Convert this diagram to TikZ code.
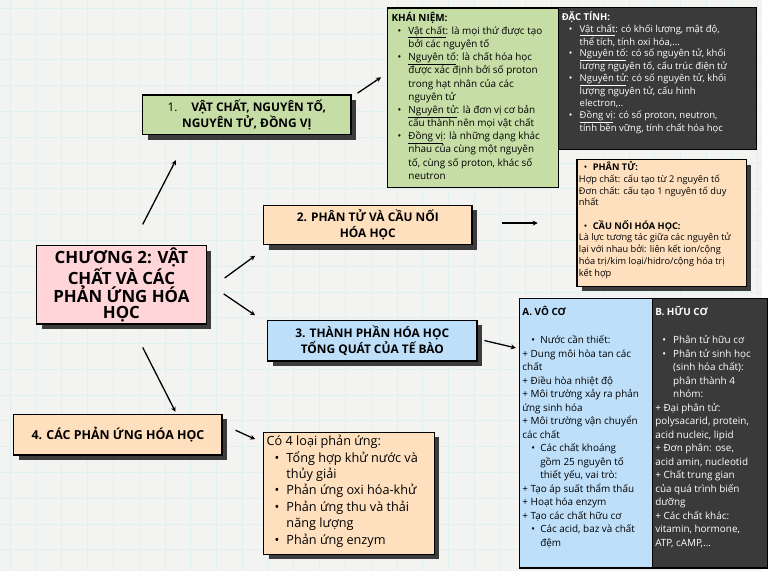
\documentclass[tikz,border=0pt]{standalone}
\usepackage{fontspec}
\setmainfont{Open Sans}
\usetikzlibrary{arrows.meta,calc,shadows}

\definecolor{paper}{HTML}{F3F4F2}
\definecolor{gridc}{HTML}{E0EFEF}
\definecolor{pinkc}{HTML}{FFD5D8}
\definecolor{greenc}{HTML}{C6DDA6}
\definecolor{peachc}{HTML}{FFE0BE}
\definecolor{bluec}{HTML}{BEDFFA}
\definecolor{darkc}{HTML}{3A3A3A}
\definecolor{shadowc}{HTML}{3C3C3C}

% bullet lines with hanging indent
\newlength\bulin
\newlength\txtin
\newcommand\itmset[2]{\setlength\bulin{#1}\setlength\txtin{#2}}
\newcommand\itm[1]{\par\noindent\hangindent=\txtin\hangafter=1\hspace*{\bulin}\makebox[\dimexpr\txtin-\bulin\relax][l]{\textbullet}#1\par}
\newcommand\notetext[3]{\begin{minipage}[t][#2][t]{#1}\raggedright #3\end{minipage}}

\begin{document}
\begin{tikzpicture}[x=1pt,y=-1pt,
  headbox/.style={draw=black, line width=1.3pt, anchor=north west, align=center, inner sep=2pt,
    font=\fontsize{12}{16.5}\selectfont\bfseries,
    drop shadow={shadow xshift=5pt,shadow yshift=-5pt,opacity=1,fill=shadowc}},
  notebox/.style={draw=black, line width=1.3pt, anchor=north west, inner sep=4pt},
  arr/.style={-{Stealth[length=5pt,width=5pt]}, line width=1.3pt},
  gridline/.style={gridc, line width=0.6pt}
]
  % paper background
  \fill[paper] (0,0) rectangle (768,576);
  \foreach \gx in {10,36,...,768} \draw[gridline] (\gx,0) -- (\gx,576);
  \foreach \gy in {8,34,...,576} \draw[gridline] (0,\gy) -- (768,\gy);

  % main topic
  \node[headbox, fill=pinkc, minimum width=171, minimum height=78,
    font=\fontsize{17}{16.2}\selectfont\bfseries] (main) at (36,247)
    {CHƯƠNG 2: VẬT\\CHẤT VÀ CÁC\\PHẢN ỨNG HÓA\\HỌC};

  % four branches
  \node[headbox, fill=greenc, minimum width=210, minimum height=40] (b1) at (143,95)
    {{\mdseries 1.}\hspace{14pt}VẬT CHẤT, NGUYÊN TỐ,\\NGUYÊN TỬ, ĐỒNG VỊ};
  \node[headbox, fill=peachc, minimum width=210, minimum height=40] (b2) at (265,206)
    {2. PHÂN TỬ VÀ CẦU NỐI\\HÓA HỌC};
  \node[headbox, fill=bluec, minimum width=211, minimum height=41] (b3) at (269,322)
    {3. THÀNH PHẦN HÓA HỌC\\TỔNG QUÁT CỦA TẾ BÀO};
  \node[headbox, fill=peachc, minimum width=210, minimum height=41,
    font=\fontsize{12.5}{16}\selectfont\bfseries] (b4) at (13,417)
    {4. CÁC PHẢN ỨNG HÓA HỌC};

  % notes of branch 1
  \node[notebox, fill=greenc, font=\fontsize{10}{13.3}\selectfont] (kn) at (390,7)
    {\notetext{164pt}{173pt}{%
      \textbf{KHÁI NIỆM:}\par
      \itmset{6pt}{17pt}%
      \itm{\underline{Vật chất}: là mọi thứ được tạo\newline bởi các nguyên tố}
      \itm{\underline{Nguyên tố}: là chất hóa học\newline được xác định bởi số proton\newline trong hạt nhân của các\newline nguyên tử}
      \itm{\underline{Nguyên tử}: là đơn vị cơ bản\newline cấu thành nên mọi vật chất}
      \itm{\underline{Đồng vị}: là những dạng khác\newline nhau của cùng một nguyên\newline tố, cùng số proton, khác số\newline neutron}}};
  \node[notebox, fill=darkc, line width=0.8pt, text=white, font=\fontsize{9.6}{11.8}\selectfont] (dt) at (562,7)
    {\notetext{192pt}{135pt}{%
      \textbf{ĐẶC TÍNH:}\par
      \itmset{7pt}{18pt}%
      \itm{\underline{Vật chất}: có khối lượng, mật độ,\newline thể tích, tính oxi hóa,...}
      \itm{\underline{Nguyên tố}: có số nguyên tử, khối\newline lượng nguyên tố, cấu trúc điện tử}
      \itm{\underline{Nguyên tử}: có số nguyên tử, khối\newline lượng nguyên tử, cấu hình\newline electron,..}
      \itm{\underline{Đồng vị}: có số proton, neutron,\newline tính bền vững, tính chất hóa học}}};

  % notes of branch 2
  \node[notebox, fill=peachc, inner sep=2pt, font=\fontsize{9.3}{11.8}\selectfont,
    drop shadow={shadow xshift=5pt,shadow yshift=-5pt,opacity=1,fill=shadowc}] (pt) at (581,160)
    {\notetext{167pt}{124pt}{%
      \itmset{5pt}{14pt}%
      \itm{\textbf{PHÂN TỬ:}}
      Hợp chất: cấu tạo từ 2 nguyên tố\newline
      Đơn chất: cấu tạo 1 nguyên tố duy\newline nhất\par
      \vspace{11.8pt}
      \itm{\textbf{CẦU NỐI HÓA HỌC:}}
      Là lực tương tác giữa các nguyên tử\newline
      lại với nhau bởi: liên kết ion/cộng\newline
      hóa trị/kim loại/hidro/cộng hóa trị\newline
      kết hợp}};

  % notes of branch 3
  \node[notebox, fill=bluec, inner sep=3pt, font=\fontsize{10}{13.6}\selectfont] (vc) at (523,300)
    {\notetext{128pt}{266pt}{%
      \vspace*{5pt}\textbf{A. VÔ CƠ}\par
      \vspace{15pt}
      \itmset{9pt}{18pt}%
      \itm{Nước cần thiết:}
      + Dung môi hòa tan các\newline chất\newline
      + Điều hòa nhiệt độ\newline
      + Môi trường xảy ra phản\newline ứng sinh hóa\newline
      + Môi trường vận chuyển\newline các chất\par
      \itm{Các chất khoáng\newline gồm 25 nguyên tố\newline thiết yếu, vai trò:}
      + Tạo áp suất thẩm thấu\newline
      + Hoạt hóa enzym\newline
      + Tạo các chất hữu cơ\par
      \itm{Các acid, baz và chất\newline đệm}}};
  \node[notebox, fill=darkc, text=white, inner sep=3pt, font=\fontsize{10}{13.6}\selectfont] (hc) at (657,300)
    {\notetext{110pt}{266pt}{%
      \vspace*{5pt}\textbf{B. HỮU CƠ}\par
      \vspace{15pt}
      \itmset{7pt}{18pt}%
      \itm{Phân tử hữu cơ}
      \itm{Phân tử sinh học\newline (sinh hóa chất):\newline phân thành 4\newline nhóm:}
      + Đại phân tử:\newline polysacarid, protein,\newline acid nucleic, lipid\newline
      + Đơn phân: ose,\newline acid amin, nucleotid\newline
      + Chất trung gian\newline của quá trình biến\newline dưỡng\newline
      + Các chất khác:\newline vitamin, hormone,\newline ATP, cAMP,...}};

  % notes of branch 4
  \node[notebox, fill=peachc, inner sep=3pt, font=\fontsize{12.8}{16.6}\selectfont,
    drop shadow={shadow xshift=5pt,shadow yshift=-5pt,opacity=1,fill=shadowc}] (pu) at (265,435)
    {\notetext{166pt}{117pt}{%
      Có 4 loại phản ứng:\par
      \itmset{8pt}{20pt}%
      \itm{Tổng hợp khử nước và\newline thủy giải}
      \itm{Phản ứng oxi hóa-khử}
      \itm{Phản ứng thu và thải\newline năng lượng}
      \itm{Phản ứng enzym}}};

  % connectors
  \draw[arr] ($(main.north)+(21.5,-21)$) -- ($(b1.south west)+(34,25)$);
  \draw[arr] ($(main.east)+(18,-7)$) -- ($(b2.west)+(-8,31)$);
  \draw[arr] ($(main.east)+(17,9)$) -- ($(b3.west)+(-12,-25.5)$);
  \draw[arr] ($(main.south)+(21.5,23)$) -- ($(b4.north)+(58,-2)$);
  \draw[arr] ($(b1.east)+(6,-22)$) -- ($(kn.west)+(-6,-20.5)$);
  \draw[arr] ($(b2.east)+(30,-2)$) -- ($(pt.west)+(-39,0)$);
  \draw[arr] ($(b3.east)+(7,0)$) -- ($(vc.west)+(-3,-86)$);
  \draw[arr] ($(b4.east)+(13,-4.5)$) -- ($(pu.west)+(-8,-54.5)$);

  \useasboundingbox (0,0) rectangle (768,576);
\end{tikzpicture}
\end{document}
